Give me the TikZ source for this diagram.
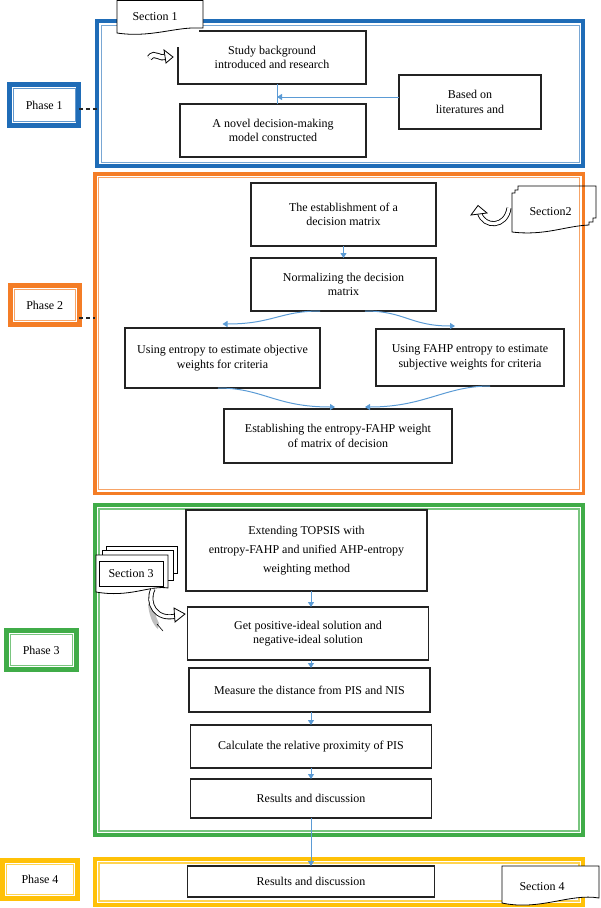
\documentclass[tikz,border=0pt]{standalone}
\usepackage{fontspec}
\setmainfont{Liberation Serif}
\usetikzlibrary{arrows.meta,calc}
\definecolor{pblue}{RGB}{31,108,183}
\definecolor{porange}{RGB}{244,125,38}
\definecolor{pgreen}{RGB}{64,172,72}
\definecolor{pyellow}{RGB}{255,193,7}
\definecolor{connc}{RGB}{91,155,213}
\definecolor{boxline}{RGB}{35,35,35}
\begin{document}
\begin{tikzpicture}[x=1pt,y=-1pt,
  every node/.style={outer sep=0pt, font=\fontsize{12}{14.5}\selectfont},
  box/.style={draw=boxline, line width=1.1pt, align=center, inner sep=2pt, fill=white},
  frame/.style={draw=#1, line width=4pt, inner sep=0pt},
  phasebox/.style={draw=#1, line width=5pt, align=center, inner sep=0pt},
  conn/.style={draw=connc, line width=1pt, -{Triangle[width=6pt,length=5pt]}},
  connline/.style={draw=connc, line width=1pt},
  link/.style={draw=black!85, line width=1.3pt, dash pattern=on 4pt off 3pt},
  icon/.style={draw=black, line width=0.8pt, fill=white},
  tagtext/.style={inner sep=1pt}]
\useasboundingbox (0,0) rectangle (600,908);

% ---------- frames ----------
\node[frame=pblue, minimum width=486pt, minimum height=145pt] (f1) at (340,93.5) {};
\draw[pblue!60, line width=1pt] ([shift={(4pt,-4pt)}]f1.north west) rectangle ([shift={(-4pt,4pt)}]f1.south east);
\node[frame=porange, line width=3.5pt, minimum width=488.5pt, minimum height=319.5pt] (f2) at (339,333.5) {};
\draw[porange!70, line width=1.2pt] ([shift={(3.5pt,-3.5pt)}]f2.north west) rectangle ([shift={(-3.5pt,3.5pt)}]f2.south east);
\node[frame=pgreen, minimum width=488pt, minimum height=330pt] (f3) at (339,670) {};
\draw[pgreen!70, line width=1.2pt] ([shift={(4pt,-4pt)}]f3.north west) rectangle ([shift={(-4pt,4pt)}]f3.south east);
\node[frame=pyellow, minimum width=488pt, minimum height=46pt] (f4) at (339,882) {};
\draw[pyellow!70, line width=1.2pt] ([shift={(4pt,-4pt)}]f4.north west) rectangle ([shift={(-4pt,4pt)}]f4.south east);

% ---------- phase labels ----------
\node[phasebox=pblue, minimum width=69pt, minimum height=40.5pt] (p1) at (44.25,105) {Phase 1};
\draw[pblue!70, line width=0.8pt] ([shift={(3.8pt,-3.8pt)}]p1.north west) rectangle ([shift={(-3.8pt,3.8pt)}]p1.south east);
\node[phasebox=porange, minimum width=68.5pt, minimum height=39pt] (p2) at (44.75,305) {Phase 2};
\draw[porange!70, line width=0.8pt] ([shift={(3.8pt,-3.8pt)}]p2.north west) rectangle ([shift={(-3.8pt,3.8pt)}]p2.south east);
\node[phasebox=pgreen, minimum width=69.5pt, minimum height=39pt] (p3) at (41.25,650) {Phase 3};
\draw[pgreen!70, line width=0.8pt] ([shift={(3.8pt,-3.8pt)}]p3.north west) rectangle ([shift={(-3.8pt,3.8pt)}]p3.south east);
\node[phasebox=pyellow, minimum width=75pt, minimum height=38pt] (p4) at (40,879.5) {Phase 4};
\draw[pyellow!70, line width=0.8pt] ([shift={(3.8pt,-3.8pt)}]p4.north west) rectangle ([shift={(-3.8pt,3.8pt)}]p4.south east);

\coordinate (d1) at ([yshift=-4pt]p1.east);
\draw[link] (d1) -- (d1 -| f1.west);
\coordinate (d2) at ([yshift=-13pt]p2.east);
\draw[link] (d2) -- (d2 -| f2.west);

% ---------- phase 1 ----------
\node[box, minimum width=188pt, minimum height=53pt] (study) at (272,57.5) {Study background\\introduced and research};
\node[box, minimum width=186pt, minimum height=53pt] (novel) at (273,130.5) {A novel decision-making\\model constructed};
\node[box, minimum width=142pt, minimum height=54pt] (based) at (470,102) {Based on\\literatures and};
\coordinate (j1) at (277,97);
\draw[connline] (study.south -| j1) -- (novel.north -| j1);
\draw[conn] (based.west |- j1) -- (j1);
\fill[white] (176.5,29.5) rectangle (199,46.5);
\draw[icon] (117,0.5) -- (203,0.5) -- (203,28) -- (198,28) .. controls (175,27) and (150,38) .. (117,33) -- cycle;
\node[tagtext] (s1) at (155,17) {Section 1};
% curly arrow icon 1
\draw[black, line width=6pt] (149.5,58) .. controls (155,50) and (160,61) .. (166,56);
\draw[white, line width=4.2pt] (149.5,58) .. controls (155,50) and (160,61) .. (166,56);
\draw[icon] (164,50) -- (173,57) -- (166,63) -- cycle;

% ---------- phase 2 ----------
\node[box, minimum width=185pt, minimum height=63pt] (estab) at (343.5,214.5) {The establishment of a\\decision matrix};
\node[box, minimum width=185pt, minimum height=53pt] (norm) at (343.5,284.5) {Normalizing the decision\\matrix};
\node[box, minimum width=195pt, minimum height=60pt] (entropy) at (222.5,358) {Using entropy to estimate objective\\weights for criteria};
\node[box, minimum width=188pt, minimum height=57pt] (fahp) at (470,357.5) {Using FAHP entropy to estimate\\subjective weights for criteria};
\node[box, minimum width=228pt, minimum height=54pt] (est2) at (338,436) {Establishing the entropy-FAHP weight\\of matrix of decision};
\draw[conn] (estab.south) -- (norm.north);
\draw[conn] ([xshift=-23.5pt]norm.south) .. controls +(-40,0) and +(50,0) .. ([yshift=4pt]entropy.north);
\draw[conn] ([xshift=21.5pt]norm.south) .. controls +(40,0) and +(-45,0) .. ([xshift=-15pt,yshift=3pt]fahp.north);
\draw[conn] ([xshift=-4.5pt]entropy.south) .. controls +(45,0) and +(-60,0) .. ([xshift=-3pt,yshift=2pt]est2.north);
\draw[conn] ([xshift=20pt]fahp.south) .. controls +(-45,0) and +(60,0) .. ([xshift=27pt,yshift=2pt]est2.north);
% section 2 tag
\draw[draw=black, line width=0.8pt] (518,186) -- (596,186) -- (596,218) -- (593,218) -- (593,222) -- (589,222) -- (589,225) .. controls (565,226) and (545,236) .. (512,232) -- (512,193) -- (515,193) -- (515,190) -- (518,190) -- cycle;
\node[tagtext] (s2) at (550.5,212) {Section2};
\draw[black, line width=5pt] (509,208) .. controls (506,228) and (484,228) .. (479.5,213);
\draw[white, line width=3.3pt] (509,208) .. controls (506,228) and (484,228) .. (479.5,213);
\draw[icon] (471,215) -- (478,205.5) -- (487,213) -- cycle;

% ---------- phase 3 ----------
\node[box, minimum width=241pt, minimum height=81pt, font=\fontsize{12}{19}\selectfont] (ext) at (306.5,550.5) {Extending TOPSIS with\\entropy-FAHP and unified AHP-entropy\\weighting method};
\node[box, minimum width=241.5pt, minimum height=53pt] (gp) at (308,633.5) {Get positive-ideal solution and\\negative-ideal solution};
\node[box, minimum width=241pt, minimum height=44pt] (meas) at (309.5,690) {Measure the distance from PIS and NIS};
\node[box, minimum width=241.5pt, minimum height=43pt] (calc) at (311,746.5) {Calculate the relative proximity of PIS};
\node[box, minimum width=241.5pt, minimum height=39pt] (r3) at (311,798.5) {Results and discussion};
\coordinate (a3) at (311,0);
\draw[conn] (ext.south -| a3) -- (gp.north -| a3);
\draw[conn] (gp.south -| a3) -- (meas.north -| a3);
\draw[conn] (meas.south -| a3) -- (calc.north -| a3);
\draw[conn] (calc.south -| a3) -- (r3.north -| a3);
% section 3 stack
\draw[icon] (106,546) rectangle (177,573);
\draw[icon] (102,550) rectangle (173,580);
\draw[icon] (96,555) -- (168,555) -- (168,588) .. controls (150,585) and (130,598) .. (96,592) -- cycle;
\node[draw=black, line width=0.9pt, minimum width=64pt, minimum height=25pt, inner sep=0pt] (s3) at (131,573.5) {Section 3};
\fill[black!25] (148,604) .. controls (149,614) and (152,624) .. (158,629) -- (159,623) .. controls (155,616) and (154,609) .. (154,603) -- cycle;
\draw[black, line width=0.6pt] (157,624) -- (163,631);
\draw[black, line width=5pt] (153,589) .. controls (146,603) and (156,621) .. (176,616);
\draw[white, line width=3.3pt] (153,589) .. controls (146,603) and (156,621) .. (176,616);
\draw[icon] (174,608) -- (185,614) -- (175,622) -- cycle;

% ---------- phase 4 ----------
\node[box, minimum width=247.5pt, minimum height=31pt] (r4) at (311,881.5) {Results and discussion};
\draw[conn] (r3.south -| a3) -- (r4.north -| a3);
\draw[icon] (502,866) -- (599,866) -- (599,898) .. controls (570,893) and (540,911) .. (502,903) -- cycle;
\node[tagtext] (s4) at (542,887) {Section 4};
\end{tikzpicture}
\end{document}
